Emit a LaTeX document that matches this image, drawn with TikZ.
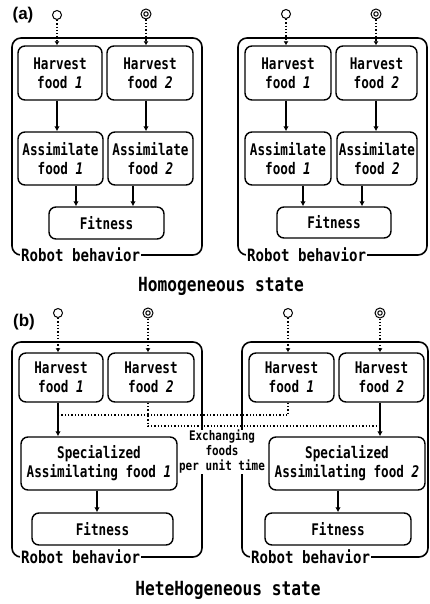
\documentclass[tikz,border=0pt]{standalone}
\usepackage{fontspec}
\usetikzlibrary{arrows.meta}
\newfontfamily\monof[FakeStretch=0.83]{DejaVu Sans Mono}
\newfontfamily\boxf[FakeStretch=0.79]{DejaVu Sans Mono}
\newfontfamily\labf{Liberation Sans}
\newcommand\fd[1]{\textit{#1}}
\tikzset{
  box/.style={draw, rounded corners=7pt, line width=1.4pt, align=center, inner sep=0pt,
    font=\boxf\bfseries\fontsize{16}{19}\selectfont},
  outerbox/.style={draw, rounded corners=9pt, line width=1.6pt},
  rblab/.style={fill=white, inner sep=1pt, anchor=west, font=\monof\bfseries\fontsize{17}{20}\selectfont},
  arr/.style={line width=1.3pt, -{Latex[length=5pt,width=5.5pt]}},
  dotarr/.style={line width=1.3pt, dotted, -{Latex[length=4pt,width=5pt]}},
  xdot/.style={line width=1.3pt, dotted},
  foodA/.style={circle, draw, line width=1pt, minimum size=9pt, inner sep=0pt},
  foodB/.style={circle, draw, line width=1pt, minimum size=10pt, inner sep=0pt,
    path picture={\draw[line width=1pt] (path picture bounding box.center) circle (2.2pt);}},
  caption/.style={font=\monof\bfseries\fontsize{19.5}{22}\selectfont},
  panel/.style={font=\labf\bfseries\fontsize{17}{20}\selectfont},
  xtext/.style={fill=white, inner sep=0.5pt, align=center,
    font=\monof\bfseries\fontsize{13.2}{15}\selectfont}
}
\begin{document}
\begin{tikzpicture}[x=1pt,y=-1pt]
\useasboundingbox (0,0) rectangle (429,604);
% ---------------- (a) ----------------
\node[panel] (pa) at (23,15) {(a)};
% left robot
\draw[outerbox] (12,38) rectangle (202,255);
\node[rblab] (rbaL) at (20,255) {Robot behavior};
\node[box, minimum width=84pt, minimum height=54pt] (aH1) at (60,73) {Harvest\\ food \fd{1}};
\node[box, minimum width=86pt, minimum height=54pt] (aH2) at (150,73) {Harvest\\ food \fd{2}};
\node[box, minimum width=85pt, minimum height=53pt] (aA1) at (60.5,158.5) {Assimilate\\ food \fd{1}};
\node[box, minimum width=85pt, minimum height=53pt] (aA2) at (150.5,158.5) {Assimilate\\ food \fd{2}};
\node[box, minimum width=115pt, minimum height=32pt] (aF) at (106.5,223) {Fitness};
\node[foodA] (fa1) at (57,15) {};
\node[foodB] (fa2) at (146,14) {};
\coordinate (xa3) at (76,0);
\coordinate (xa4) at (133,0);
\draw[dotarr] (fa1) -- (aH1.north -| fa1);
\draw[dotarr] (fa2) -- (aH2.north -| fa2);
\draw[arr] (aH1.south -| fa1) -- (aA1.north -| fa1);
\draw[arr] (aH2.south -| fa2) -- (aA2.north -| fa2);
\draw[arr] (aA1.south -| xa3) -- (aF.north -| xa3);
\draw[arr] (aA2.south -| xa4) -- (aF.north -| xa4);
% right robot
\draw[outerbox] (238,38) rectangle (427,255);
\node[rblab] (rbaR) at (246,255) {Robot behavior};
\node[box, minimum width=86pt, minimum height=54pt] (rH1) at (288,73) {Harvest\\ food \fd{1}};
\node[box, minimum width=81pt, minimum height=54pt] (rH2) at (376.5,73) {Harvest\\ food \fd{2}};
\node[box, minimum width=86pt, minimum height=53pt] (rA1) at (288,158.5) {Assimilate\\ food \fd{1}};
\node[box, minimum width=80pt, minimum height=53pt] (rA2) at (377,158.5) {Assimilate\\ food \fd{2}};
\node[box, minimum width=114pt, minimum height=31pt] (rF) at (334,222.5) {Fitness};
\node[foodA] (fr1) at (286,14) {};
\node[foodB] (fr2) at (376,14) {};
\coordinate (xr3) at (303,0);
\coordinate (xr4) at (362,0);
\draw[dotarr] (fr1) -- (rH1.north -| fr1);
\draw[dotarr] (fr2) -- (rH2.north -| fr2);
\draw[arr] (rH1.south -| fr1) -- (rA1.north -| fr1);
\draw[arr] (rH2.south -| fr2) -- (rA2.north -| fr2);
\draw[arr] (rA1.south -| xr3) -- (rF.north -| xr3);
\draw[arr] (rA2.south -| xr4) -- (rF.north -| xr4);
\node[caption] (capa) at (221,286) {Homogeneous state};
% ---------------- (b) ----------------
\node[panel] (pb) at (24,322) {(b)};
\draw[outerbox] (12,342) rectangle (202,557);
\node[rblab] (rbbL) at (20,557) {Robot behavior};
\draw[outerbox] (242,342) rectangle (428,557);
\node[rblab] (rbbR) at (250,557) {Robot behavior};
\node[xtext] (xt) at (222,452) {Exchanging\\ foods\\ per unit time};
\node[box, minimum width=84pt, minimum height=49pt] (bH1) at (61,377.5) {Harvest\\ food \fd{1}};
\node[box, minimum width=86pt, minimum height=49pt] (bH2) at (151,377.5) {Harvest\\ food \fd{2}};
\node[box, minimum width=156pt, minimum height=53pt] (bS1) at (99,463.5) {Specialized\\ Assimilating food \fd{1}};
\node[box, minimum width=141pt, minimum height=32pt] (bF) at (102.5,529) {Fitness};
\node[box, minimum width=85pt, minimum height=49pt] (cH1) at (291.5,377.5) {Harvest\\ food \fd{1}};
\node[box, minimum width=85pt, minimum height=49pt] (cH2) at (381.5,377.5) {Harvest\\ food \fd{2}};
\node[box, minimum width=156pt, minimum height=53pt] (cS2) at (347,463.5) {Specialized\\ Assimilating food \fd{2}};
\node[box, minimum width=146pt, minimum height=32pt] (cF) at (338,529) {Fitness};
\node[foodA] (fb1) at (58,313) {};
\node[foodB] (fb2) at (148,313) {};
\node[foodA] (fc1) at (288,313) {};
\node[foodB] (fc2) at (380,313) {};
\coordinate (jA) at (58,415);
\coordinate (kA) at (288,415);
\coordinate (jB) at (148,426);
\coordinate (kB) at (380,426);
\coordinate (xb3) at (97,0);
\coordinate (xc3) at (338,0);
\draw[dotarr] (fb1) -- (bH1.north -| fb1);
\draw[dotarr] (fb2) -- (bH2.north -| fb2);
\draw[dotarr] (fc1) -- (cH1.north -| fc1);
\draw[dotarr] (fc2) -- (cH2.north -| fc2);
\draw[arr] (bH1.south -| jA) -- (bS1.north -| jA);
\draw[arr] (cH2.south -| kB) -- (cS2.north -| kB);
\draw[xdot] (cH1.south -| kA) -- (kA) -- (jA);
\draw[xdot] (bH2.south -| jB) -- (jB) -- (kB);
\draw[arr] (bS1.south -| xb3) -- (bF.north -| xb3);
\draw[arr] (cS2.south -| xc3) -- (cF.north -| xc3);
\node[caption] (capb) at (228,590) {HeteHogeneous state};
\end{tikzpicture}
\end{document}
